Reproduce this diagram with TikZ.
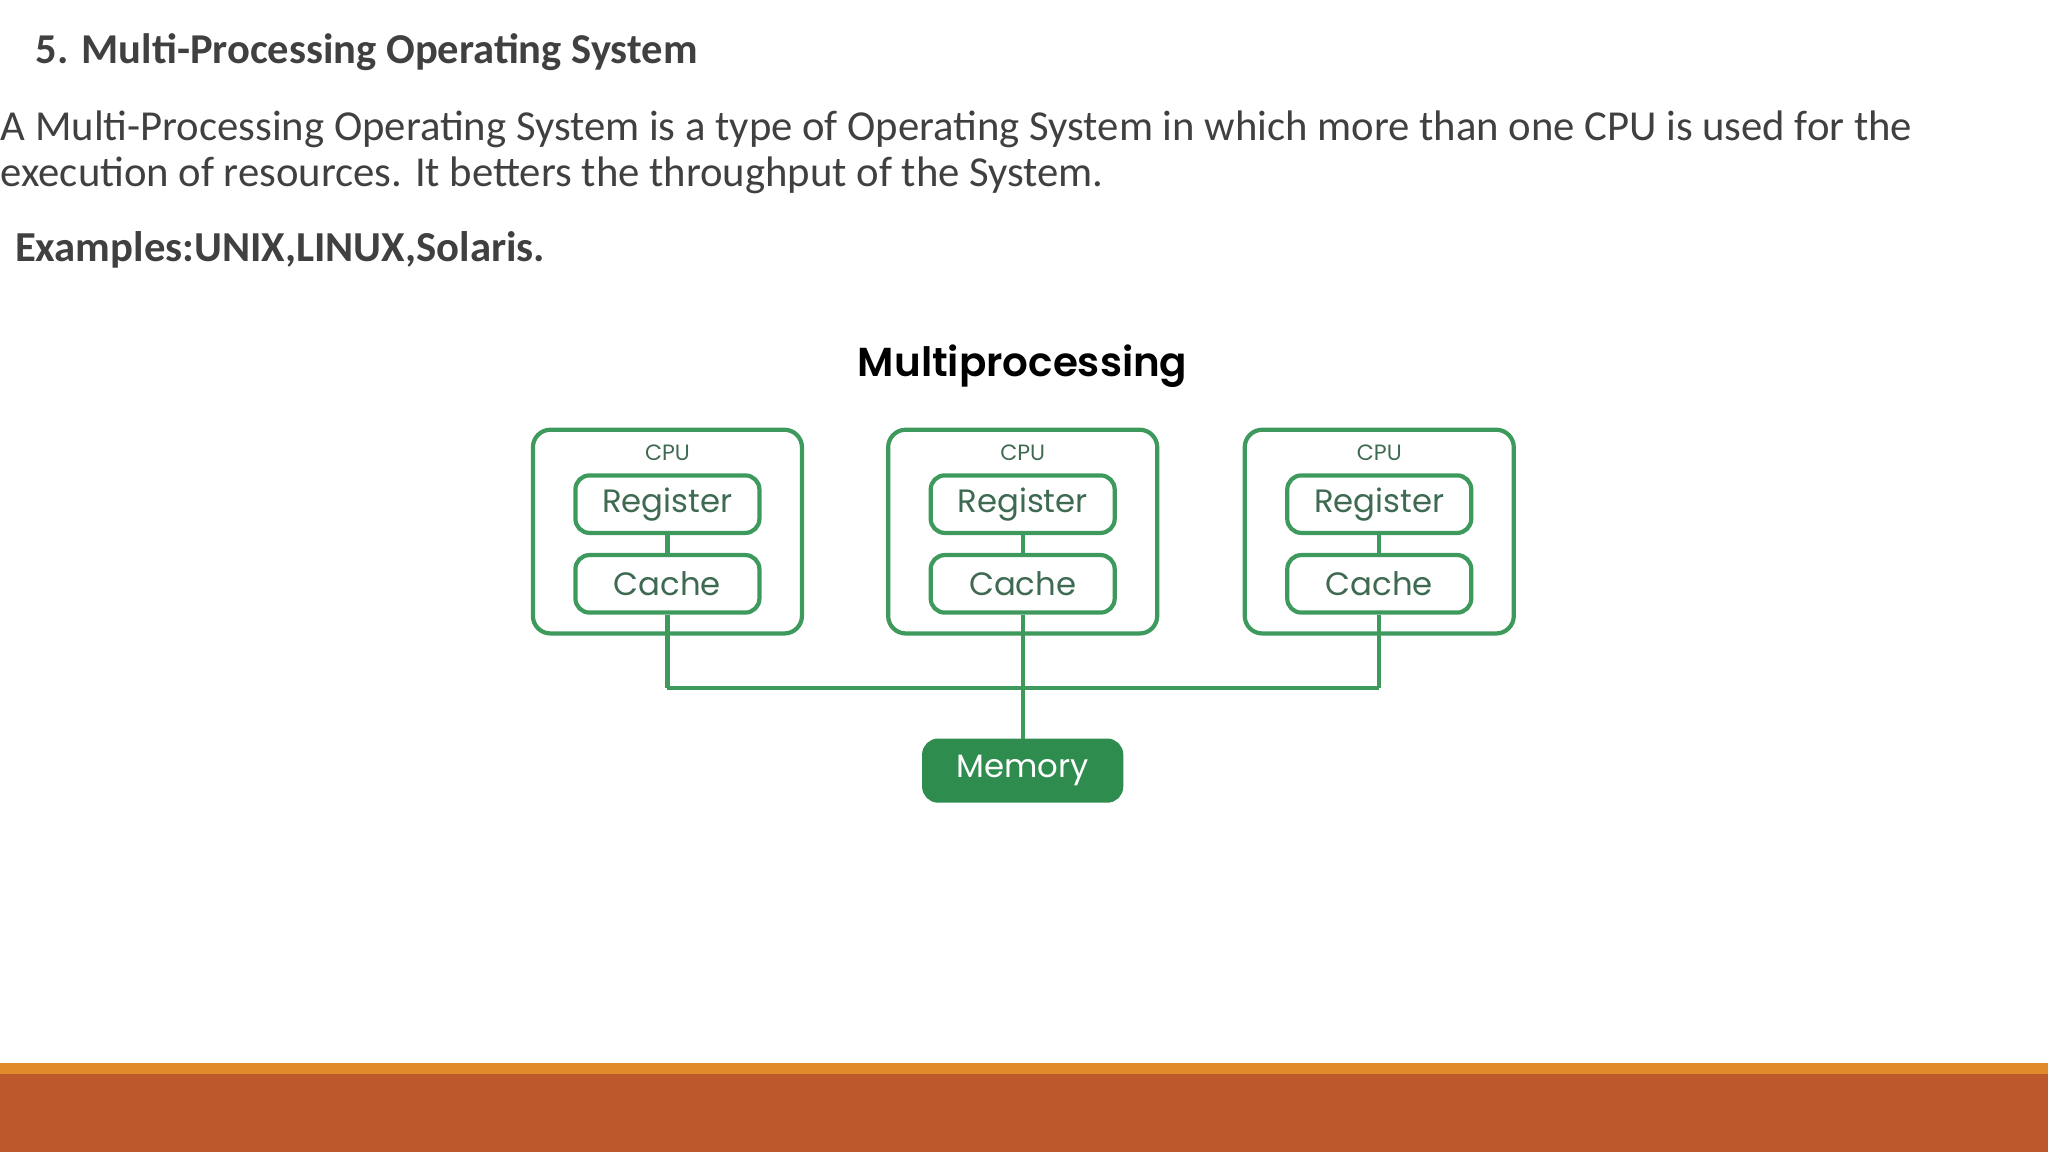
\documentclass[tikz,border=0pt]{standalone}
\usepackage{fontspec}
\setmainfont{Carlito}
\newfontfamily\dfont{Poppins}
\newfontfamily\dfontsb{Poppins SemiBold}
\definecolor{gline}{HTML}{3E9A5C}
\definecolor{gfill}{HTML}{2F8C4F}
\definecolor{gtext}{HTML}{3F6A52}
\definecolor{txt}{HTML}{404040}
\definecolor{orng}{HTML}{E08A2C}
\definecolor{rust}{HTML}{BC582C}
\begin{document}
\begin{tikzpicture}[x=0.013061cm,y=-0.013061cm,
 box/.style={draw=gline,line width=1.2pt,rounded corners=4pt,text=gtext,font=\dfont\fontsize{9.2}{10}\selectfont,minimum width=1.84cm,minimum height=0.575cm,inner sep=0},
 lbl/.style={text=gtext,font=\dfont\fontsize{6.3}{7}\selectfont,inner sep=0},
 wire/.style={gline,line width=1.2pt}]
\useasboundingbox (0,0) rectangle (1568,882);
\fill[orng] (0,814) rectangle (1568,822);
\fill[rust] (0,822) rectangle (1568,882);
\node[anchor=west,text=txt,font=\bfseries\fontsize{12.1}{14}\selectfont,inner sep=0] (h) at (27,40) {5. Multi-Processing Operating System};
\node[anchor=north west,text=txt,font=\fontsize{12.15}{13.1}\selectfont,inner sep=0,align=left] (p) at (0,84) {A Multi-Processing Operating System is a type of Operating System in which more than one CPU is used for the\\execution of resources. It betters the throughput of the System.};
\node[anchor=west,text=txt,font=\bfseries\fontsize{12.15}{14}\selectfont,inner sep=0] (e) at (11,191) {Examples:UNIX,LINUX,Solaris.};
\node[font=\dfontsb\fontsize{11.5}{13}\selectfont,inner sep=0] (t) at (783,280) {Multiprocessing};
\foreach \n/\x in {a/511,b/783,c/1056}{
 \draw[gline,line width=1.2pt,rounded corners=5pt] (\x-103,329) rectangle (\x+103,485);
 \node[lbl] (cpu\n) at (\x,347) {CPU};
 \node[box] (r\n) at (\x,386) {Register};
 \node[box] (c\n) at (\x,447) {Cache};
 \draw[wire] (r\n) -- (c\n);
 \coordinate (b\n) at (\x,527);
 \draw[wire] (c\n) -- (b\n);
}
\draw[wire] (ba) -- (bc);
\node[box,fill=gfill,draw=gfill,text=white,minimum width=1.97cm,minimum height=0.6cm] (m) at (783,590) {Memory};
\draw[wire] (bb) -- (m);
\end{tikzpicture}
\end{document}
